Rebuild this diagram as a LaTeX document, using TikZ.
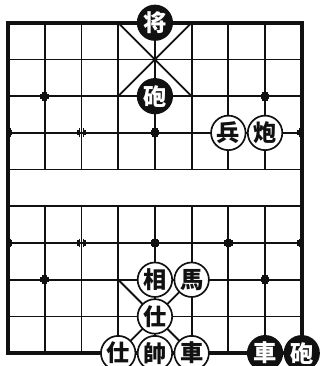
\documentclass[tikz,border=0pt]{standalone}
\usepackage{fontspec}
\newfontfamily\cjk{Noto Sans CJK TC}
\usepackage{xcolor}
\usepackage{tikz}
\definecolor{ink}{HTML}{111111}
\tikzset{
  gridline/.style ={line width=1.4pt,draw=ink},
  frameline/.style={line width=2.8pt,draw=ink},
  redpiece/.style ={circle,draw=ink,line width=1.3pt,fill=white,text=ink,
                    minimum size=0.94cm,inner sep=0pt,
                    font=\cjk\bfseries\fontsize{18}{18}\selectfont},
  blackpiece/.style={redpiece,fill=ink,text=white}
}
% small brackets round a cannon/pawn station
\newcommand{\stationmark}[3]{%
  \foreach \sx in {#3}{\foreach \sy in {-1,1}{
    \draw[gridline,line width=1.2pt,shift={(#1,#2)}]
      (\sx*0.05,\sy*0.12) -- (\sx*0.05,\sy*0.05) -- (\sx*0.12,\sy*0.05);
  }}}

\begin{document}
\begin{tikzpicture}
  \useasboundingbox (-0.22,-0.35) rectangle (8.5,9.62);
  % ranks and edges
  \foreach \y in {1,...,8}
    \draw[gridline] (0,\y) -- (8,\y);
  \foreach \x in {1,...,7}{
    \draw[gridline] (\x,0) -- (\x,4);
    \draw[gridline] (\x,5) -- (\x,9);
  }
  \draw[frameline] (0,0) rectangle (8,9);
  % palaces
  \draw[gridline] (3,9) -- (5,7) (5,9) -- (3,7);
  \draw[gridline] (3,0) -- (5,2) (5,0) -- (3,2);
  % stations
  \foreach \y in {2,7}
    \foreach \x in {1,7} \stationmark{\x}{\y}{-1,1};
  \foreach \y in {3,6}{
    \foreach \x in {2,4,6} \stationmark{\x}{\y}{-1,1};
    \stationmark{0}{\y}{1};
    \stationmark{8}{\y}{-1};
  }
  % black
  \node[blackpiece] (jiang)  at (4,9) {将};
  \node[blackpiece] (bpao)   at (4,7) {砲};
  \node[blackpiece] (bche)   at (7,0) {車};
  \node[blackpiece] (bpaob)  at (8,0) {砲};
  % red
  \node[redpiece] (bing)  at (6,6) {兵};
  \node[redpiece] (rpao)  at (7,6) {炮};
  \node[redpiece] (xiang) at (4,2) {相};
  \node[redpiece] (ma)    at (5,2) {馬};
  \node[redpiece] (shia)  at (4,1) {仕};
  \node[redpiece] (shib)  at (3,0) {仕};
  \node[redpiece] (shuai) at (4,0) {帥};
  \node[redpiece] (rche)  at (5,0) {車};
\end{tikzpicture}
\end{document}
